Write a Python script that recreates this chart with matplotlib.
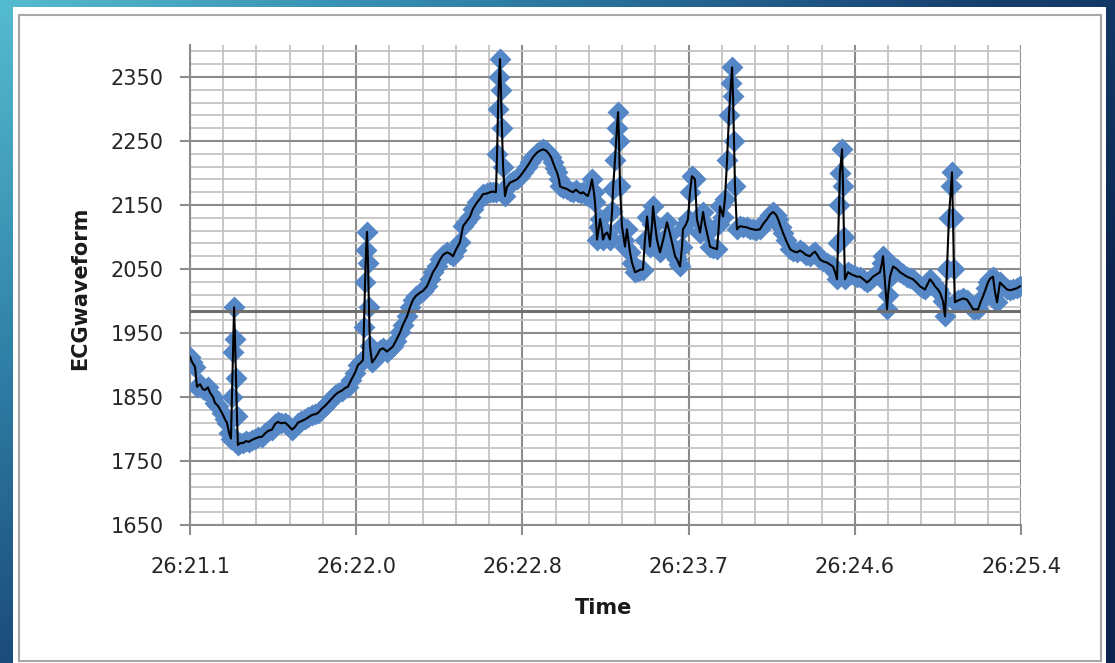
import numpy as np
import matplotlib
matplotlib.use("Agg")
import matplotlib.pyplot as plt
from matplotlib.patches import Rectangle
from matplotlib.colors import LinearSegmentedColormap

# time in ms after 26:21.1, ECG sample values
time_ms = [0, 10, 26, 36, 52, 67, 78, 93, 103, 119, 129, 145, 166, 181, 191, 202, 212,
           217, 222, 228, 233, 238, 243, 248, 259, 274, 290, 305, 321, 336, 352, 373, 388,
           404, 424, 440, 455, 471, 492, 507, 528, 543, 559, 574, 595, 611, 631, 647, 662,
           683, 698, 714, 735, 750, 766, 786, 802, 817, 833, 854, 869, 885, 895,
           900, 906, 911, 916, 921, 926, 931, 942, 957, 973, 983, 999, 1019, 1035, 1050,
           1066, 1087, 1102, 1123, 1138, 1154, 1169, 1190, 1206, 1226, 1242, 1257, 1278,
           1294, 1309, 1330, 1345, 1361, 1376, 1397, 1413, 1428, 1449, 1464, 1485, 1501,
           1516, 1537, 1552, 1568, 1583,
           1589, 1594, 1599, 1604, 1609, 1614, 1620, 1630, 1640, 1656, 1671, 1692, 1708,
           1723, 1744, 1759, 1775, 1796, 1811, 1827, 1842, 1852, 1868, 1878, 1889, 1899,
           1909, 1915, 1930, 1951, 1966, 1982, 1997, 2008, 2023, 2034, 2049, 2059, 2070,
           2080, 2090, 2096, 2106, 2116, 2122, 2132, 2137, 2147, 2158, 2168, 2173, 2184,
           2189, 2199, 2209, 2215, 2220, 2225, 2235, 2246, 2251, 2261, 2277, 2287, 2303,
           2318, 2329, 2344, 2354, 2365, 2375, 2380, 2391, 2396, 2406, 2416, 2432, 2448,
           2468, 2484, 2499, 2510, 2520, 2530, 2536, 2546, 2551, 2567, 2577, 2587, 2597,
           2608, 2613, 2623, 2639, 2655, 2665, 2675, 2691, 2706, 2727, 2737, 2742, 2758,
           2768, 2779, 2789, 2799, 2805, 2810, 2815, 2820, 2830, 2846, 2861, 2882, 2898,
           2913, 2929, 2949, 2965, 2986, 3001, 3017, 3032, 3043, 3058, 3068, 3084, 3105,
           3120, 3141, 3156, 3172, 3187, 3208, 3224, 3234, 3250, 3260, 3275, 3296, 3312,
           3327, 3338, 3348, 3353, 3358, 3363, 3374, 3379, 3384, 3389, 3405, 3420, 3436,
           3451, 3467, 3488, 3503, 3519, 3534, 3555, 3570, 3581, 3586, 3596, 3607, 3612,
           3622, 3638, 3658, 3674, 3689, 3710, 3726, 3741, 3762, 3777, 3793, 3803, 3819,
           3829, 3845, 3855, 3870, 3881, 3896, 3907, 3917, 3927, 3938, 3943, 3948, 3953,
           3958, 3974, 3984, 4000, 4021, 4036, 4052, 4062, 4078, 4093, 4103, 4119, 4129,
           4140, 4155, 4165, 4176, 4191, 4207, 4228, 4243, 4259, 4279, 4295]
ecg = [1913, 1905, 1897, 1866, 1870, 1862, 1861, 1865, 1857, 1850, 1841, 1836, 1825, 1815,
       1810, 1794, 1785,
       1850, 1920, 1990, 1940, 1880, 1820, 1775, 1778, 1778, 1781, 1780, 1783, 1785, 1787,
       1788, 1793, 1797, 1799, 1808, 1811, 1809, 1810, 1806, 1799, 1803, 1810, 1812, 1815,
       1818, 1822, 1823, 1825, 1832, 1836, 1841, 1848, 1853, 1857, 1860, 1864, 1866, 1876,
       1888, 1900, 1904, 1908,
       1960, 2030, 2080, 2108, 2060, 1990, 1930, 1904, 1910, 1918, 1924, 1926, 1921, 1925,
       1929, 1938, 1951, 1963, 1976, 1990, 2002, 2008, 2013, 2016, 2023, 2034, 2045, 2055,
       2065, 2072, 2076, 2074, 2070, 2080, 2092, 2117, 2123, 2132, 2144, 2154, 2160, 2167,
       2168, 2170, 2171, 2170,
       2230, 2300, 2350, 2378, 2330, 2270, 2210, 2164, 2178, 2185, 2187, 2190, 2195, 2201,
       2210, 2217, 2225, 2232, 2235, 2237, 2235, 2232, 2225, 2217, 2208, 2201, 2190, 2179,
       2177, 2175, 2172, 2170, 2174, 2171, 2168, 2170, 2166, 2164, 2175, 2190, 2170, 2154,
       2096, 2115, 2128, 2110, 2096, 2104, 2107, 2100, 2096, 2140, 2175, 2220, 2270, 2295,
       2250, 2180, 2117, 2095, 2085, 2112, 2076, 2060, 2045, 2047, 2049, 2049, 2095, 2132,
       2100, 2085, 2120, 2148, 2120, 2096, 2076, 2095, 2123, 2105, 2085, 2070, 2065, 2058,
       2054, 2085, 2112, 2120, 2128, 2170, 2195, 2192, 2190, 2128, 2107, 2139, 2120, 2107,
       2085, 2083, 2081, 2120, 2148, 2132, 2159, 2220, 2290, 2340, 2365, 2320, 2250, 2180,
       2112, 2117, 2116, 2115, 2113, 2112, 2111, 2112, 2120, 2128, 2135, 2139, 2135, 2128,
       2115, 2107, 2095, 2081, 2078, 2076, 2079, 2076, 2072, 2070, 2075, 2077, 2070, 2065,
       2062, 2060, 2057, 2054, 2045, 2034, 2090, 2150, 2200, 2237, 2180, 2100, 2034, 2045,
       2042, 2040, 2038, 2038, 2033, 2029, 2033, 2038, 2042, 2045, 2060, 2070, 2030, 1987,
       2010, 2038, 2054, 2050, 2045, 2042, 2038, 2036, 2034, 2028, 2023, 2020, 2018, 2028,
       2034, 2028, 2023, 2018, 2013, 2000, 1976, 2050, 2130, 2180, 2201, 2130, 2050, 1998,
       2001, 2002, 2004, 2002, 1995, 1987, 1987, 1987, 2000, 2007, 2020, 2029, 2035, 2038,
       2015, 1998, 2029, 2024, 2018, 2017, 2018, 2020, 2023]
baseline = 1985

x_ticks = [0, 860, 1720, 2580, 3440, 4300]
x_labels = ['26:21.1', '26:22.0', '26:22.8', '26:23.7', '26:24.6', '26:25.4']
y_ticks = [1650, 1750, 1850, 1950, 2050, 2150, 2250, 2350]

W, H = 1115, 663
fig = plt.figure(figsize=(W / 100, H / 100), dpi=100)

# slide background gradient
bg = fig.add_axes([0, 0, 1, 1])
xx, yy = np.meshgrid(np.linspace(0, 1, 300), np.linspace(0, 1, 200))
t = np.clip(0.75 * xx + 0.6 * yy, 0, 1)
cmap = LinearSegmentedColormap.from_list('slide', ['#55bccf', '#2f7fa6', '#173f6e', '#0b2550'])
bg.imshow(t, cmap=cmap, extent=[0, 1, 0, 1], aspect='auto', origin='upper')
bg.set_xlim(0, 1)
bg.set_ylim(0, 1)
bg.axis('off')

def fx(px):
    return px / W

def fy(py):
    return 1 - py / H

bg.add_patch(Rectangle((fx(13), 0), fx(1106) - fx(13), fy(7), facecolor='white', edgecolor='none'))
bg.add_patch(Rectangle((fx(18.5), fy(661)), fx(1100.5) - fx(18.5), fy(14.5) - fy(661),
                       facecolor='none', edgecolor='#a6a6a6', lw=1.5))

ax = fig.add_axes([fx(190), fy(525), fx(1021) - fx(190), fy(45) - fy(525)])
ax.set_facecolor('white')

ax.set_xlim(0, 4300)
ax.set_ylim(1650, 2400)
ax.set_xticks(x_ticks)
ax.set_xticklabels(x_labels)
ax.set_xticks(np.arange(0, 4301, 172), minor=True)
ax.set_yticks(y_ticks)
ax.set_yticks(np.arange(1650, 2400, 20), minor=True)

ax.grid(which='minor', color='#c4c4c4', lw=1.3, zorder=0)
ax.grid(which='major', color='#8c8c8c', lw=1.5, zorder=0)
ax.set_axisbelow(True)

for side in ['top', 'right']:
    ax.spines[side].set_visible(False)
for side in ['left', 'bottom']:
    ax.spines[side].set_color('#8c8c8c')
    ax.spines[side].set_linewidth(1.5)

ax.tick_params(which='major', length=7, width=1.5, color='#8c8c8c',
               labelsize=15, labelcolor='#262626')
ax.tick_params(axis='y', which='major', pad=12)
ax.tick_params(axis='x', which='major', pad=16)
ax.tick_params(which='minor', length=0)

ax.plot(time_ms, ecg, ls='none', marker='D', ms=11, color='#5587c6', mec='none', zorder=3)
ax.axhline(baseline, color='#6e6e6e', lw=2.2, zorder=4)
ax.plot(time_ms, ecg, color='black', lw=1.5, zorder=5)

fig.text(fx(80), fy(288), 'ECGwaveform', rotation=90, ha='center', va='center',
         fontsize=15, fontweight='bold', color='#1a1a1a')
fig.text(fx(604), fy(608), 'Time', ha='center', va='center',
         fontsize=15, fontweight='bold', color='#1a1a1a')

fig.savefig('out.png', dpi=100)
